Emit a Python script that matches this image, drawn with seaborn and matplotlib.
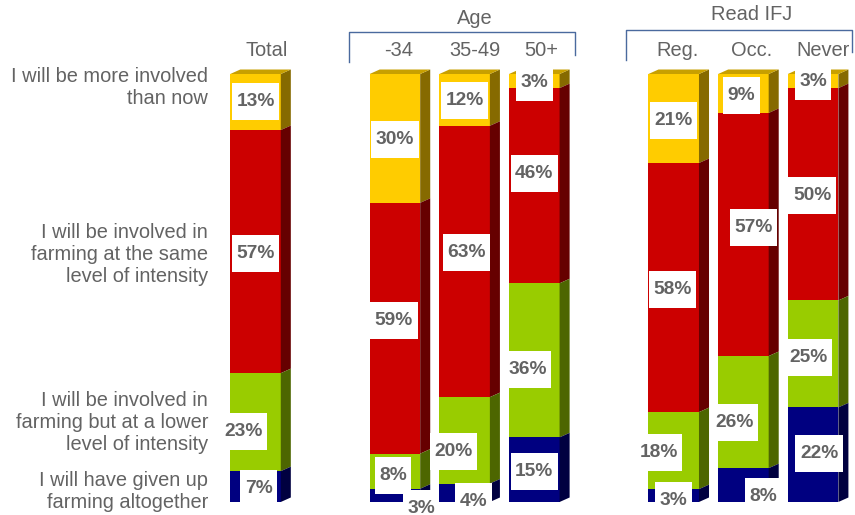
import seaborn as sns
import pandas as pd
import matplotlib.pyplot as plt
from matplotlib.lines import Line2D
from matplotlib.path import Path

columns = ['Total', '-34', '35-49', '50+', 'Reg.', 'Occ.', 'Never']
slots = ['Total', 'gap1', '-34', '35-49', '50+', 'gap2', 'Reg.', 'Occ.', 'Never']

more_involved = [13.1, 30.1, 12.1, 3.3, 20.8, 9.1, 3.3]
same_level = [56.8, 58.6, 63.4, 45.6, 58.2, 56.8, 49.6]
lower_level = [22.9, 8.2, 20.2, 36.0, 18.0, 26.2, 25.0]
given_up = [7.2, 3.1, 4.3, 15.1, 3.0, 7.9, 22.1]

segments = [more_involved, same_level, lower_level, given_up]
front_colors = ['#FFCC00', '#CC0000', '#99CC00', '#000080']
side_colors = ['#866A00', '#660000', '#4D6600', '#000040']

row_labels = [
    ('I will be more involved\nthan now', 88),
    ('I will be involved in\nfarming at the same\nlevel of intensity', 254),
    ('I will be involved in\nfarming but at a lower\nlevel of intensity', 423),
    ('I will have given up\nfarming altogether', 492),
]
headers = [('Total', 267, 51), ('-34', 399, 51), ('35-49', 475, 51), ('50+', 541, 51),
           ('Reg.', 677, 50), ('Occ.', 752, 50), ('Never', 823, 50),
           ('Age', 475, 18), ('Read IFJ', 752, 15)]

# label offsets from the middle of each segment, in pixels
label_shift = [
    [(0, 3), (0, 1), (0, 1), (0, 1), (0, 0), (-2, 0), (0, 2)],
    [(0, 0), (-1, 10), (2, 11), (0, 14), (-1, 0), (10, 9), (-1, 1)],
    [(-12, -7), (-2, -2), (-11, -9), (-7, -7), (-15, 0), (-9, -8), (-5, -2)],
    [(3, 0), (26, -11), (9, -7), (0, 0), (0, -3), (20, -9), (6, 3)],
]

grey = '#636363'
bar_width = 0.725
side_dx = 0.144
side_dy = 1.05


def label_box(x0, y0, width, height, mutation_size):
    # white boxes in the original are taller than the text, 37 px high
    mid = y0 + height / 2
    x0, x1 = x0 - 4.5, x0 + width + 4.5
    verts = [(x0, mid - 18.5), (x1, mid - 18.5), (x1, mid + 18.5), (x0, mid + 18.5), (x0, mid - 18.5)]
    return Path(verts, closed=True)


plt.rcParams['font.family'] = ['Liberation Sans', 'DejaVu Sans']

fig = plt.figure(figsize=(8.55, 5.15), dpi=100)
ax = fig.add_axes([0, 0, 1, 1])

# cumulative from the bottom, so tallest stack gets drawn first
tops = []
for i in range(4):
    tops.append([sum(seg[c] for seg in segments[i:]) for c in range(len(columns))])

for i in range(4):
    df = pd.DataFrame({'col': columns, 'top': tops[i]})
    sns.barplot(data=df, x='col', y='top', order=slots, color=front_colors[i], saturation=1,
                width=bar_width, errorbar=None, linewidth=0, ax=ax)

for c, name in enumerate(columns):
    middle = slots.index(name)
    right = middle + bar_width / 2
    left = middle - bar_width / 2
    for i in range(4):
        y1 = tops[i][c]
        y0 = tops[i + 1][c] if i < 3 else 0
        ax.fill([right, right + side_dx, right + side_dx, right],
                [y0, y0 + side_dy, y1 + side_dy, y1], color=side_colors[i], lw=0, zorder=3)
        ax.annotate(f'{segments[i][c]:.0f}%', (middle, (y0 + y1) / 2),
                    xytext=label_shift[i][c], textcoords='offset pixels',
                    ha='center', va='center_baseline', fontsize=13.8, fontweight='bold', color=grey,
                    bbox=dict(boxstyle=label_box, fc='white', ec='none'), zorder=5)
    y = tops[0][c]
    ax.fill([left, left + side_dx, right + side_dx, right],
            [y, y + side_dy, y + side_dy, y], color='#C8A000', lw=0, zorder=3)

ax.set_xlim(-3.666, 8.601)
ax.set_ylim(-3.04, 117.29)
ax.axis('off')

for text, y in row_labels:
    fig.text(208 / 855, 1 - y / 515, text, ha='right', va='center', fontsize=14.4,
             color=grey, linespacing=1.2)
for text, x, y in headers:
    fig.text(x / 855, 1 - y / 515, text, ha='center', va='center', fontsize=14.4, color=grey)

for xs, ys in [([349, 349, 575, 575], [62, 32, 32, 55]), ([626, 626, 852, 852], [60, 30, 30, 52])]:
    fig.add_artist(Line2D([x / 855 for x in xs], [1 - y / 515 for y in ys], color='#4A6A9E', lw=1))

plt.savefig('out.png', dpi=100)
